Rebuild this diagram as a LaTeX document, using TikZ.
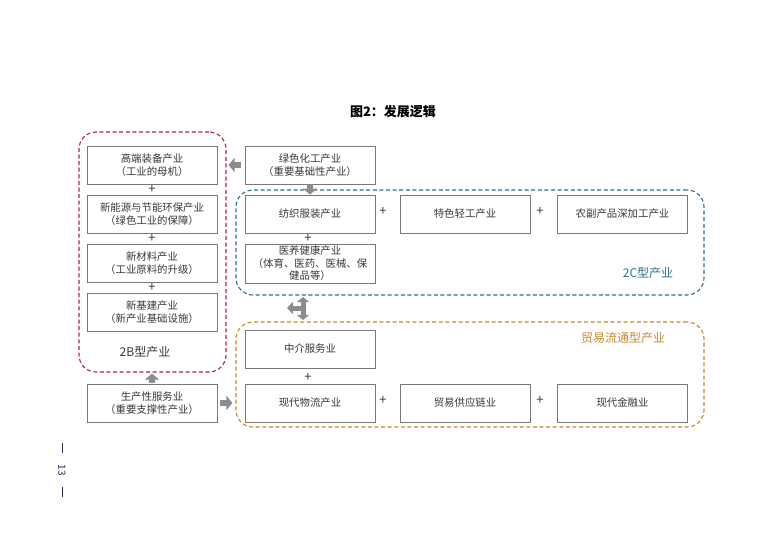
\documentclass[tikz,border=0pt]{standalone}
\usepackage{fontspec}
\setmainfont{Noto Sans CJK SC}
\usetikzlibrary{arrows.meta}
\definecolor{boxline}{HTML}{787878}
\definecolor{txt}{HTML}{383838}
\definecolor{crim}{HTML}{B3204F}
\definecolor{bluec}{HTML}{2F6F94}
\definecolor{orangec}{HTML}{C98A2E}
\definecolor{arrg}{HTML}{8C8C8C}
\definecolor{pagec}{HTML}{3D1A4D}
\tikzset{
  ibox/.style={draw=boxline, line width=0.9pt, minimum width=130pt, minimum height=38pt,
    align=center, text=txt, font=\fontsize{10.4}{13}\selectfont, inner sep=1pt},
  plus/.style={text=txt, font=\fontsize{13}{13}\selectfont, inner sep=0pt},
  grp/.style={line width=1.1pt, rounded corners=17pt, dash pattern=on 4pt off 2.6pt, minimum width=468pt, minimum height=105pt},
  grplabel/.style={font=\fontsize{12}{12}\selectfont, inner sep=0pt},
  blk/.style={draw=arrg, line width=6.5pt, -{Triangle[width=14pt,length=6pt]}},
  blkthin/.style={draw=arrg, line width=5pt, {Triangle[width=12pt,length=5pt]}-{Triangle[width=12pt,length=5pt]}},
  blkthinone/.style={draw=arrg, line width=5pt, -{Triangle[width=12pt,length=6pt]}},
}
\begin{document}
\begin{tikzpicture}[x=1pt,y=-1pt]
\useasboundingbox[fill=white] (0,0) rectangle (781,551);

\node[font=\bfseries\fontsize{13}{13}\selectfont, inner sep=0pt] (title) at (393,112) {图2：发展逻辑};

% group boxes
\node[grp, draw=crim, minimum width=147pt, minimum height=240pt] (g2b) at (152.5,252) {};
\node[grp, draw=bluec] (g2c) at (470,242.5) {};
\node[grp, draw=orangec] (gtrade) at (470,374.5) {};

% left column
\node[ibox] (b1) at (152,165) {高端装备产业\\（工业的母机）};
\node[ibox] (b2) at (152,214) {新能源与节能环保产业\\（绿色工业的保障）};
\node[ibox] (b3) at (152,263) {新材料产业\\（工业原料的升级）};
\node[ibox] (b4) at (152,312) {新基建产业\\（新产业基础设施）};
\node[plus] (p1) at (152,189.5) {+};
\node[plus] (p2) at (152,238.5) {+};
\node[plus] (p3) at (152,287.5) {+};
\node[grplabel, text=txt] (l2b) at (145,352) {2B型产业};
\node[ibox] (prod) at (152,403) {生产性服务业\\（重要支撑性产业）};

% middle / 2C
\node[ibox] (green) at (310,165) {绿色化工产业\\（重要基础性产业）};
\node[ibox] (tex) at (310,214) {纺织服装产业};
\node[ibox] (light) at (465,214) {特色轻工产业};
\node[ibox] (agri) at (622.5,214) {农副产品深加工产业};
\node[ibox, minimum height=39pt, font=\fontsize{10.4}{12.5}\selectfont] (health) at (310,263.5) {医养健康产业\\（体育、医药、医械、保\\健品等）};
\node[plus] (p4) at (308,238.5) {+};
\node[plus] (p5) at (383,211) {+};
\node[plus] (p6) at (540,211) {+};
\node[grplabel, text=bluec] (l2c) at (648,273) {2C型产业};

% trade
\node[ibox] (inter) at (310,349) {中介服务业};
\node[ibox] (logis) at (310,403) {现代物流产业};
\node[ibox] (supply) at (465,403) {贸易供应链业};
\node[ibox] (fin) at (622.5,403) {现代金融业};
\node[plus] (p7) at (308,377) {+};
\node[plus] (p8) at (383,400) {+};
\node[plus] (p9) at (540,400) {+};
\node[grplabel, text=orangec] (ltr) at (623,338) {贸易流通型产业};

% arrows
\draw[blk, shorten <=1pt, shorten >=1pt] (prod.north) -- (prod.north |- g2b.south);
\draw[blk, shorten <=4pt, shorten >=2pt] (green.west) -- (green.west -| g2b.east);
\draw[blk, shorten <=0pt, shorten >=0pt] (green.south) -- (tex.north);
\draw[blk, shorten <=3pt, shorten >=3pt] (prod.east) -- (prod.east -| gtrade.west);
\coordinate (hub) at (303,308);
\coordinate (hubL) at (287,308);
\draw[blkthin, shorten <=1.5pt, shorten >=1.5pt] (hub |- g2c.south) -- (hub |- gtrade.north);
\draw[blkthinone, shorten <=-2pt] (hub) -- (hubL);

% page number
\node[rotate=-90, text=pagec, font=\fontsize{10}{10}\selectfont, inner sep=0pt] (pg) at (62,470) {13};
\coordinate (pgt) at (62,443);
\coordinate (pgb) at (62,497);
\draw[pagec, line width=0.9pt] (pgt) -- ++(0,10);
\draw[pagec, line width=0.9pt] (pgb) -- ++(0,-10);
\end{tikzpicture}
\end{document}
